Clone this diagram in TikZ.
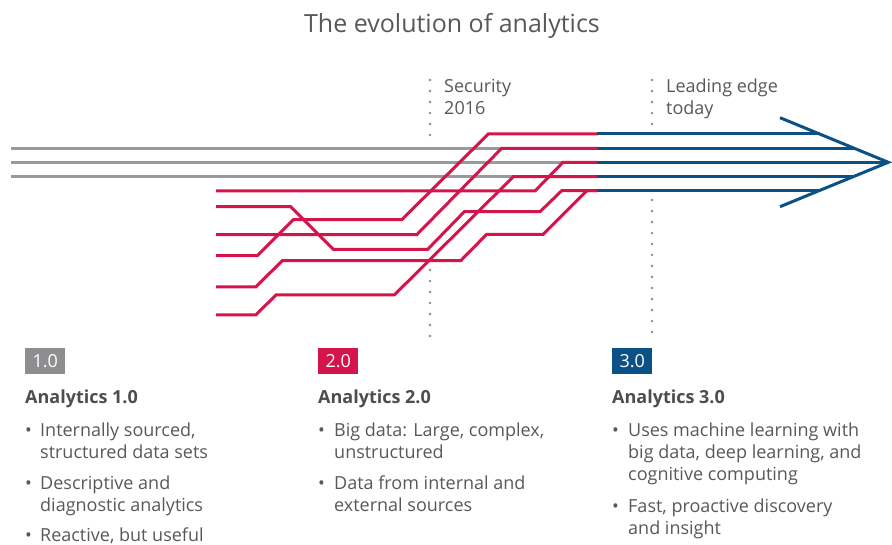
\documentclass[tikz,border=0pt]{standalone}
\usepackage{fontspec}
\setmainfont{Open Sans}
\definecolor{greyline}{HTML}{9A9A9C}
\definecolor{redline}{HTML}{D4144A}
\definecolor{blueline}{HTML}{0B5186}
\definecolor{greybox}{HTML}{8E8E90}
\definecolor{dotcol}{HTML}{8A8A8A}
\definecolor{txt}{HTML}{58585A}
\definecolor{head}{HTML}{4D4D4F}
\begin{document}
\begin{tikzpicture}[x=1pt,y=-1pt,
  gl/.style={draw=greyline,line width=3pt},
  rl/.style={draw=redline,line width=3pt,line join=miter},
  bl/.style={draw=blueline,line width=3pt},
  dots/.style={draw=dotcol,line width=2.6pt,line cap=round,dash pattern=on 0pt off 11pt},
  lbl/.style={anchor=base west,inner sep=0pt,text=txt,font=\fontsize{18}{22}\selectfont},
  hd/.style={anchor=base west,inner sep=0pt,text=head,font=\fontsize{18}{22}\selectfont\bfseries},
  bul/.style={anchor=base west,inner sep=0pt,text=txt,font=\fontsize{18}{22}\selectfont},
  badge/.style={minimum width=40pt,minimum height=26pt,inner sep=0pt,anchor=north west,text=white,font=\fontsize{18}{22}\selectfont}
]
\useasboundingbox (0,0) rectangle (892,545);
% title
\node[anchor=base,inner sep=0pt,text=txt,font=\fontsize{25}{30}\selectfont] (title) at (452,33) {The evolution of analytics};
% dotted markers
\draw[dots] (430,80) -- (430,137);
\draw[dots] (430,270) -- (430,337);
\draw[dots] (652,80) -- (652,126);
\draw[dots] (652,200) -- (652,337);
\node[lbl] (sec1) at (444,93) {Security};
\node[lbl] (sec2) at (444,115) {2016};
\node[lbl] (lead1) at (666,93) {Leading edge};
\node[lbl] (lead2) at (666,115) {today};
% grey lines
\draw[gl] (11,148.3) -- (501.7,148.3);
\draw[gl] (11,162.3) -- (563,162.3);
\draw[gl] (11,176.7) -- (513.3,176.7);
% red lines
\draw[rl] (216,191) -- (535,191) -- (563,162.3) -- (598,162.3);
\draw[rl] (216,206.7) -- (290.7,206.7) -- (333.3,249.3) -- (427.7,249.3) -- (464.3,211.7) -- (540,211.7) -- (561.7,190.7) -- (598,190.7);
\draw[rl] (216,234.7) -- (416.7,234.7) -- (501.7,148.3) -- (598,148.3);
\draw[rl] (216,255.7) -- (257.3,255.7) -- (293.3,219.7) -- (401.7,219.7) -- (488.3,134) -- (598,134);
\draw[rl] (216,287) -- (255.7,287) -- (282.3,260.7) -- (460.7,260.7) -- (486.7,234.3) -- (543.3,234.3) -- (586.7,190.7) -- (598,190.7);
\draw[rl] (216,315) -- (255.7,315) -- (276,295) -- (394.3,295) -- (513.3,176.7) -- (598,176.7);
% blue lines
\draw[bl] (597,134) -- (819.6,134);
\draw[bl] (597,148.3) -- (853.8,148.3);
\draw[bl] (597,162.3) -- (888,162.3);
\draw[bl] (597,176.7) -- (853.8,176.7);
\draw[bl] (597,190.7) -- (819.6,190.7);
\draw[bl,line join=miter] (780,117.7) -- (888.3,162.3) -- (780,206.7);
% badges
\node[badge,fill=greybox] (b1) at (25,348.3) {1.0};
\node[badge,fill=redline] (b2) at (318,348.3) {2.0};
\node[badge,fill=blueline] (b3) at (612,348.3) {3.0};
% column 1
\node[hd] (h1) at (25,403) {Analytics 1.0};
\node[bul] (c1a) at (25,436) {•};
\node[lbl] (c1a1) at (40,436) {Internally sourced,};
\node[lbl] (c1a2) at (40,458) {structured data sets};
\node[bul] (c1b) at (25,489.5) {•};
\node[lbl] (c1b1) at (40,489.5) {Descriptive and};
\node[lbl] (c1b2) at (40,511.5) {diagnostic analytics};
\node[bul] (c1c) at (25,541) {•};
\node[lbl] (c1c1) at (40,541) {Reactive, but useful};
% column 2
\node[hd] (h2) at (318,403) {Analytics 2.0};
\node[bul] (c2a) at (318,436) {•};
\node[lbl] (c2a1) at (334,436) {Big data: Large, complex,};
\node[lbl] (c2a2) at (334,458) {unstructured};
\node[bul] (c2b) at (318,489.5) {•};
\node[lbl] (c2b1) at (334,489.5) {Data from internal and};
\node[lbl] (c2b2) at (334,511.5) {external sources};
% column 3
\node[hd] (h3) at (612,403) {Analytics 3.0};
\node[bul] (c3a) at (612,436) {•};
\node[lbl] (c3a1) at (628,436) {Uses machine learning with};
\node[lbl] (c3a2) at (628,458) {big data, deep learning, and};
\node[lbl] (c3a3) at (628,480) {cognitive computing};
\node[bul] (c3b) at (612,512) {•};
\node[lbl] (c3b1) at (628,512) {Fast, proactive discovery};
\node[lbl] (c3b2) at (628,534) {and insight};
\end{tikzpicture}
\end{document}
